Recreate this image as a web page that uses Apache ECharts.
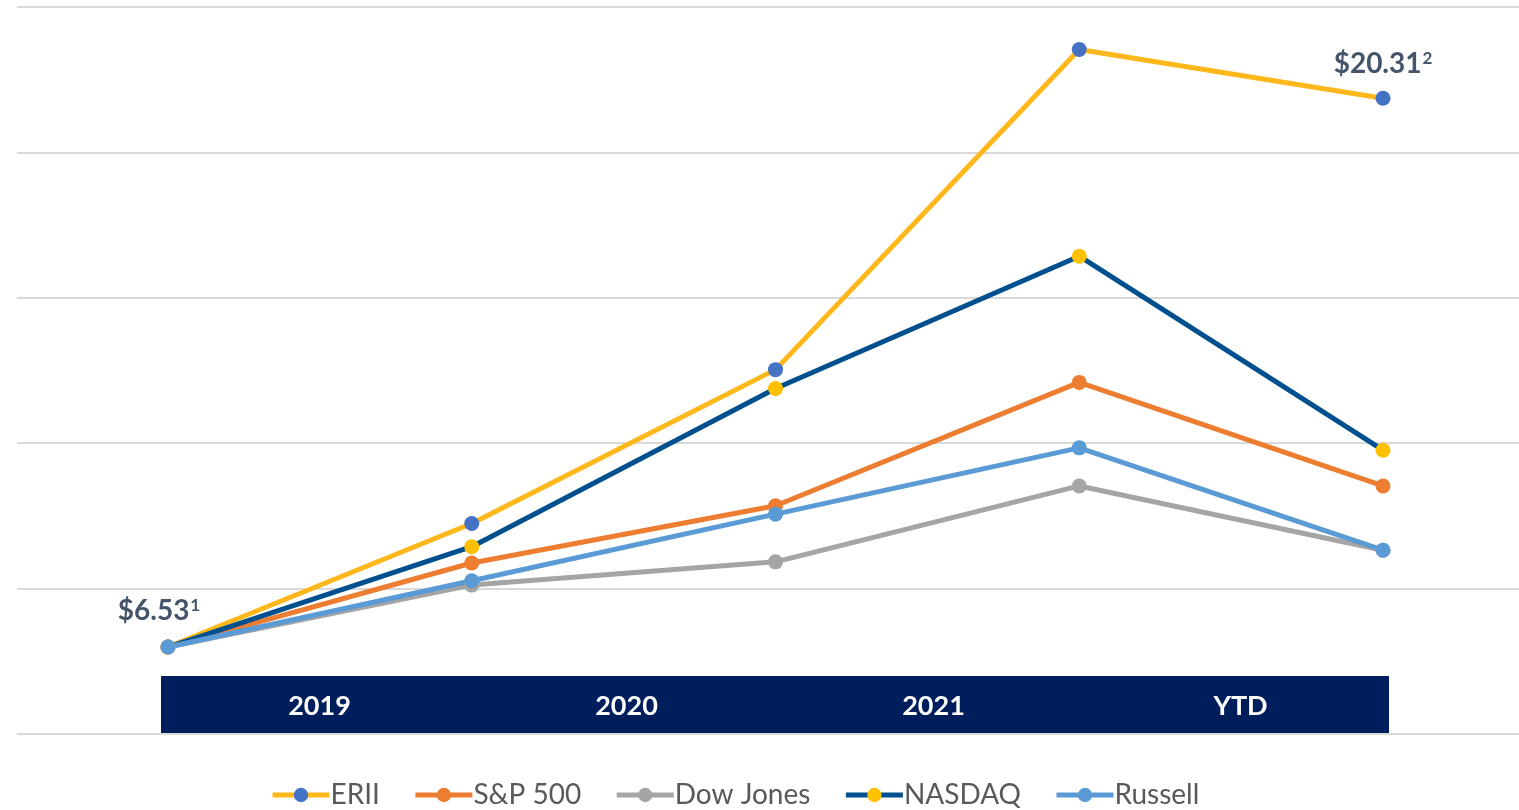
<!DOCTYPE html>
<html>
<head>
<meta charset="utf-8">
<script src="https://cdn.jsdelivr.net/npm/echarts@6/dist/echarts.min.js"></script>
<style>
html,body{margin:0;padding:0;background:#fff;}
#chart{width:1519px;height:810px;}
</style>
</head>
<body>
<div id="chart"></div>
<script>
// Data (index scale; gridlines every 50)
const points = ['P0', 'P1', 'P2', 'P3', 'P4'];
const periodLabels = ['2019', '2020', '2021', 'YTD'];
const erii    = [29.9, 72.4, 125.3, 235.4, 218.6];
const sp500   = [29.9, 58.8, 78.5, 120.9, 85.3];
const dowJones= [29.9, 51.2, 59.2, 85.3, 63.2];
const nasdaq  = [29.9, 64.4, 118.8, 164.3, 97.6];
const russell = [29.9, 52.7, 75.6, 98.4, 63.2];
const startLabel = ['$6.53', '1'];
const endLabel = ['$20.31', '2'];
const bandValues = [1, 1, 1, 1];

const FONT = 'Lato, "Open Sans", sans-serif';
const labelRich = {
  a: {fontFamily: FONT, fontWeight: 'bold', fontSize: 28, color: '#44546A'},
  b: {fontFamily: FONT, fontWeight: 'bold', fontSize: 17, color: '#44546A', padding: [0, 0, 10, 1]}
};

function lineSeries(name, data, lineColor, markerColor) {
  return {
    name: name, type: 'line', data: data,
    xAxisIndex: 1, yAxisIndex: 1,
    symbol: 'circle', symbolSize: 15,
    lineStyle: {color: lineColor, width: 5},
    itemStyle: {color: markerColor},
    emphasis: {disabled: true},
    animation: false
  };
}

const eriiData = erii.map((v, i) => {
  if (i === 0) return {value: v, label: {show: true, position: 'top', offset: [-9, -10], formatter: '{a|' + startLabel[0] + '}{b|' + startLabel[1] + '}', rich: labelRich}};
  if (i === erii.length - 1) return {value: v, label: {show: true, position: 'top', offset: [0, -8], formatter: '{a|' + endLabel[0] + '}{b|' + endLabel[1] + '}', rich: labelRich}};
  return v;
});

const series = [
  lineSeries('ERII', eriiData, '#FFB81C', '#4472C4'),
  lineSeries('S&P 500', sp500, '#ED7D31', '#ED7D31'),
  lineSeries('Dow Jones', dowJones, '#A5A5A5', '#A5A5A5'),
  lineSeries('NASDAQ', nasdaq, '#00508F', '#FFC000'),
  lineSeries('Russell', russell, '#5B9BD5', '#5B9BD5'),
  {
    type: 'bar', data: bandValues, xAxisIndex: 2, yAxisIndex: 2,
    barWidth: '100%', barCategoryGap: 0,
    itemStyle: {color: '#001E5C'},
    label: {show: true, position: 'inside', offset: [5, 2], formatter: (p) => periodLabels[p.dataIndex],
      color: '#FFFFFF', fontFamily: FONT, fontWeight: 'bold', fontSize: 27},
    silent: true, animation: false, legendHoverLink: false
  }
];

const chart = echarts.init(document.getElementById('chart'));
chart.setOption({
  backgroundColor: '#FFFFFF',
  animation: false,
  grid: [
    {left: 17, right: 0, top: 7, bottom: 76},
    {left: 168, right: 136, top: 7, bottom: 76},
    {left: 161, right: 130, top: 676, height: 57}
  ],
  xAxis: [
    {gridIndex: 0, type: 'category', data: points, show: false},
    {gridIndex: 1, type: 'category', data: points, boundaryGap: false, show: false},
    {gridIndex: 2, type: 'category', data: periodLabels, boundaryGap: true, show: false}
  ],
  yAxis: [
    {gridIndex: 0, type: 'value', min: 0, max: 250, interval: 50,
      axisLabel: {show: false}, axisLine: {show: false}, axisTick: {show: false},
      splitLine: {show: true, lineStyle: {color: '#D9D9D9', width: 2}}},
    {gridIndex: 1, type: 'value', min: 0, max: 250, interval: 50, show: false, splitLine: {show: false}},
    {gridIndex: 2, type: 'value', min: 0, max: 1, show: false, splitLine: {show: false}}
  ],
  legend: {
    data: ['ERII', 'S&P 500', 'Dow Jones', 'NASDAQ', 'Russell'],
    left: 265, top: 776,
    itemWidth: 57, itemHeight: 18, itemGap: 33,
    lineStyle: {width: 5},
    textStyle: {fontFamily: FONT, fontSize: 28, color: '#595959', padding: [0, 0, 0, -4]}
  },
  series: series
});
</script>
</body>
</html>
